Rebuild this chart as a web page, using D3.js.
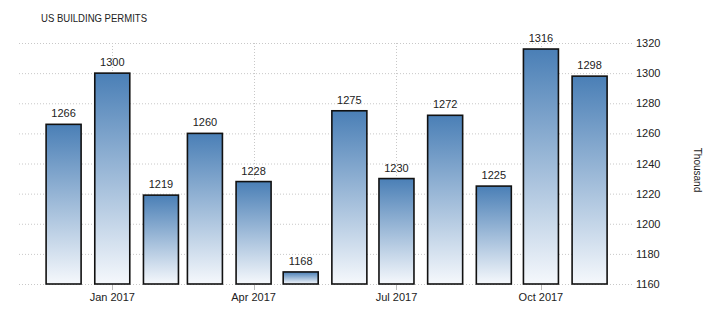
<!DOCTYPE html>
<html>
<head>
<meta charset="utf-8">
<script src="https://cdn.jsdelivr.net/npm/d3@7"></script>
<style>
  body { margin: 0; background: #fff; }
  text { font-family: "Liberation Sans", Arial, sans-serif; fill: #222; }
</style>
</head>
<body>
<div id="chart"></div>
<script>
// Monthly values (first of each month)
const months = ['2016-12-01', '2017-01-01', '2017-02-01', '2017-03-01', '2017-04-01', '2017-05-01',
    '2017-06-01', '2017-07-01', '2017-08-01', '2017-09-01', '2017-10-01', '2017-11-01'];
const permits = [1266, 1300, 1219, 1260, 1228, 1168, 1275, 1230, 1272, 1225, 1316, 1298];
const yTicks = [1160, 1180, 1200, 1220, 1240, 1260, 1280, 1300, 1320];
const xTickDates = ['2017-01-01', '2017-04-01', '2017-07-01', '2017-10-01'];

const width = 723, height = 314;
const parse = d3.utcParse('%Y-%m-%d');

const svg = d3.select('#chart')
    .append('svg')
    .attr('width', width)
    .attr('height', height);

const x = d3.scaleUtc()
    .domain([parse('2016-12-01'), parse('2017-11-01')])
    .range([63.6, 589.6]);

const y = d3.scaleLinear()
    .domain([1160, 1320])
    .range([284, 43]);

const gridLeft = 19, gridRight = 633;

// gradient for bars
const grad = svg.append('defs').append('linearGradient')
    .attr('id', 'barGrad')
    .attr('x1', 0).attr('y1', 0).attr('x2', 0).attr('y2', 1);
grad.append('stop').attr('offset', '0%').attr('stop-color', '#4a7fb6');
grad.append('stop').attr('offset', '100%').attr('stop-color', '#f5f8fc');

// title
svg.append('text')
    .attr('x', 41)
    .attr('y', 22)
    .attr('font-size', 11)
    .attr('textLength', 106)
    .attr('lengthAdjust', 'spacingAndGlyphs')
    .attr('fill', '#333')
    .text('US BUILDING PERMITS');

// horizontal grid
svg.append('g')
    .selectAll('line')
    .data(yTicks)
    .enter()
    .append('line')
    .attr('x1', gridLeft)
    .attr('x2', gridRight)
    .attr('y1', d => y(d) + 0.5)
    .attr('y2', d => y(d) + 0.5)
    .attr('stroke', '#c8c8c8')
    .attr('stroke-dasharray', '1,2');

// vertical grid at quarter ticks
const xTicks = xTickDates.map(parse);
svg.append('g')
    .selectAll('line')
    .data(xTicks)
    .enter()
    .append('line')
    .attr('x1', d => Math.round(x(d)) + 0.5)
    .attr('x2', d => Math.round(x(d)) + 0.5)
    .attr('y1', y(1320))
    .attr('y2', y(1160))
    .attr('stroke', '#c8c8c8')
    .attr('stroke-dasharray', '1,2');

// bars
const barW = 35;
const data = months.map((m, i) => ({ date: parse(m), value: permits[i] }));

svg.append('g')
    .selectAll('rect')
    .data(data)
    .enter()
    .append('rect')
    .attr('x', d => x(d.date) - barW / 2)
    .attr('y', d => y(d.value))
    .attr('width', barW)
    .attr('height', d => y(1160) - y(d.value))
    .attr('fill', 'url(#barGrad)')
    .attr('stroke', '#111')
    .attr('stroke-width', 1.6);

// value labels
svg.append('g')
    .selectAll('text')
    .data(data)
    .enter()
    .append('text')
    .attr('x', d => x(d.date))
    .attr('y', d => y(d.value) - 7)
    .attr('text-anchor', 'middle')
    .attr('font-size', 11)
    .text(d => d.value);

// x axis: small ticks + labels
const xAxis = svg.append('g');
xAxis.selectAll('line')
    .data(xTicks)
    .enter()
    .append('line')
    .attr('x1', d => Math.round(x(d)) + 0.5)
    .attr('x2', d => Math.round(x(d)) + 0.5)
    .attr('y1', y(1160) + 1)
    .attr('y2', y(1160) + 6)
    .attr('stroke', '#bbb');
xAxis.selectAll('text')
    .data(xTicks)
    .enter()
    .append('text')
    .attr('x', d => x(d))
    .attr('y', 301)
    .attr('text-anchor', 'middle')
    .attr('font-size', 11)
    .text(d3.utcFormat('%b %Y'));

// y axis labels on the right
svg.append('g')
    .selectAll('text')
    .data(yTicks)
    .enter()
    .append('text')
    .attr('x', 636)
    .attr('y', d => y(d) + 4)
    .attr('font-size', 11)
    .text(d => d);

// unit label
svg.append('text')
    .attr('transform', 'translate(694,170) rotate(90)')
    .attr('text-anchor', 'middle')
    .attr('font-size', 10)
    .text('Thousand');
</script>
</body>
</html>
